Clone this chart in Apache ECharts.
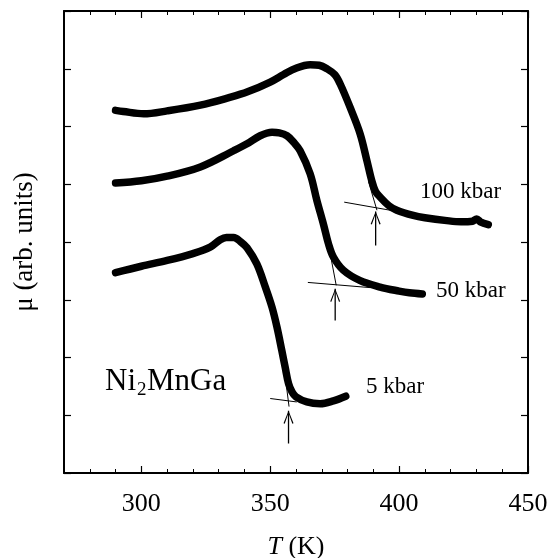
<!DOCTYPE html>
<html>
<head>
<meta charset="utf-8">
<script src="https://cdn.jsdelivr.net/npm/echarts@6/dist/echarts.min.js"></script>
<style>
  html, body { margin: 0; background: #fff; }
  #chart { width: 555px; height: 558px; }
</style>
</head>
<body>
<div id="chart"></div>
<script>
// temperature (K) and mu (arb. units)
const t5 = [290, 300, 310, 320, 326.7, 330.6, 333, 335.8, 338.4, 341, 344.8, 348.1, 350.7, 352.6, 354.5, 355.8, 357.1, 358.5, 360, 364.2, 369.4, 374.5, 379.3]
const mu5 = [3.47, 3.58, 3.68, 3.80, 3.91, 4.04, 4.08, 4.08, 4.01, 3.90, 3.62, 3.22, 2.87, 2.53, 2.12, 1.83, 1.55, 1.40, 1.32, 1.23, 1.20, 1.25, 1.33]

const t50 = [290, 300, 310, 322.9, 335.8, 341, 346.1, 350.7, 353.5, 356.5, 359, 361.6, 365.5, 368.1, 370.7, 372.6, 374.5, 378.4, 384.9, 392.6, 400, 404, 409]
const mu50 = [5.02, 5.06, 5.14, 5.30, 5.58, 5.70, 5.84, 5.90, 5.89, 5.84, 5.73, 5.58, 5.18, 4.72, 4.30, 3.97, 3.74, 3.51, 3.33, 3.22, 3.15, 3.12, 3.10]

const t100 = [290, 293, 300.9, 310, 322.9, 334, 341.2, 350, 355.2, 360, 365.5, 369, 372, 375, 377.1, 381, 384.9, 387.5, 389.4, 390.8, 392.6, 396, 399.1, 405.5, 410, 418.5, 424, 428.5, 430.1, 431.5, 434.6]
const mu100 = [6.28, 6.26, 6.22, 6.27, 6.37, 6.50, 6.60, 6.77, 6.90, 7.01, 7.07, 7.06, 7.00, 6.90, 6.74, 6.33, 5.87, 5.41, 5.06, 4.88, 4.78, 4.63, 4.55, 4.46, 4.42, 4.37, 4.35, 4.36, 4.40, 4.35, 4.30]

// tangent construction lines [T, mu] pairs
const tangents = [
  [[350, 1.29], [360.3, 1.23]],
  [[355.3, 1.85], [357.3, 1.15]],
  [[364.6, 3.30], [388.8, 3.21]],
  [[372.4, 4.00], [375.6, 3.25]],
  [[378.7, 4.69], [399.1, 4.53]],
  [[388.1, 5.05], [391.4, 4.55]],
]

// arrows marking the transition temperatures
const arrowT = [357.1, 375.2, 390.9]
const arrowBottom = [0.51, 2.64, 3.94]
const arrowTop = [1.08, 3.19, 4.53]

const xTicksMajor = [300, 350, 400, 450]

const serif = 'Liberation Serif'
const chart = echarts.init(document.getElementById('chart'))

const zip = (xs, ys) => xs.map((x, i) => [x, ys[i]])
const curve = (xs, ys) => ({
  type: 'line', data: zip(xs, ys), smooth: 0.35,
  showSymbol: false, silent: true,
  lineStyle: { color: '#000', width: 7.5, cap: 'round', join: 'round' },
})

const chevron = 'path://M5,0 L10,13 L8.8,13.4 L5,2.4 L1.2,13.4 L0,13 Z'

const series = [curve(t5, mu5), curve(t50, mu50), curve(t100, mu100)]
tangents.forEach(seg => series.push({
  type: 'line', data: seg, showSymbol: false, silent: true,
  lineStyle: { color: '#000', width: 1 },
}))
arrowT.forEach((t, i) => series.push({
  type: 'line', silent: true, showAllSymbol: true,
  data: [
    { value: [t, arrowBottom[i]], symbol: 'none' },
    { value: [t, arrowTop[i]], symbol: chevron, symbolSize: [10, 13], symbolOffset: [0, 6.5] },
  ],
  lineStyle: { color: '#000', width: 1.3 },
  itemStyle: { color: '#000' },
}))

const baseX = { type: 'value', min: 270, max: 450, interval: 10, splitLine: { show: false } }
const baseY = { type: 'value', min: 0, max: 8, interval: 1, splitLine: { show: false }, axisLabel: { show: false } }
const txt = (s, left, top, size) => ({
  type: 'text', left, top, silent: true,
  style: { text: s, fontFamily: serif, fontSize: size, fill: '#000' },
})

chart.setOption({
  animation: false,
  backgroundColor: '#fff',
  grid: { left: 64, right: 27, top: 11, bottom: 85, containLabel: false, outerBoundsMode: 'none' },
  xAxis: [
    {
      ...baseX, position: 'bottom',
      axisLine: { lineStyle: { color: '#000', width: 2 } },
      axisTick: { inside: true, length: 4, lineStyle: { color: '#000', width: 1 } },
      axisLabel: {
        interval: 0, margin: 18, color: '#000', fontFamily: serif, fontSize: 26,
        showMinLabel: true, showMaxLabel: true,
        formatter: v => (v % 50 === 0 ? String(v) : ''),
      },
      name: '{i|T} (K)', nameLocation: 'middle', nameGap: 61,
      nameTextStyle: {
        color: '#000', fontFamily: serif, fontSize: 26,
        rich: { i: { fontFamily: serif, fontSize: 26, fontStyle: 'italic', color: '#000' } },
      },
    },
    {
      ...baseX, position: 'bottom',
      axisLine: { show: false }, axisLabel: { show: false },
      axisTick: { inside: true, length: 7, customValues: xTicksMajor, lineStyle: { color: '#000', width: 1.2 } },
    },
    {
      ...baseX, position: 'top',
      axisLine: { lineStyle: { color: '#000', width: 2 } }, axisLabel: { show: false },
      axisTick: { inside: true, length: 4, lineStyle: { color: '#000', width: 1 } },
    },
    {
      ...baseX, position: 'top',
      axisLine: { show: false }, axisLabel: { show: false },
      axisTick: { inside: true, length: 7, customValues: xTicksMajor, lineStyle: { color: '#000', width: 1.2 } },
    },
  ],
  yAxis: [
    {
      ...baseY, position: 'left',
      axisLine: { show: true, lineStyle: { color: '#000', width: 2 } },
      axisTick: { show: true, inside: true, length: 7, lineStyle: { color: '#000', width: 1.2 } },
      name: 'μ (arb. units)', nameLocation: 'middle', nameRotate: 90, nameGap: 26,
      nameTextStyle: { color: '#000', fontFamily: serif, fontSize: 27 },
    },
    {
      ...baseY, position: 'right',
      axisLine: { show: true, lineStyle: { color: '#000', width: 2 } },
      axisTick: { show: true, inside: true, length: 7, lineStyle: { color: '#000', width: 1.2 } },
    },
  ],
  graphic: [
    txt('100 kbar', 420, 180, 23),
    txt('50 kbar', 436, 279, 23),
    txt('5 kbar', 366, 375, 23),
    txt('Ni', 105, 366, 31),
    txt('2', 137, 381, 19),
    txt('MnGa', 147, 366, 31),
  ],
  series,
})
</script>
</body>
</html>
